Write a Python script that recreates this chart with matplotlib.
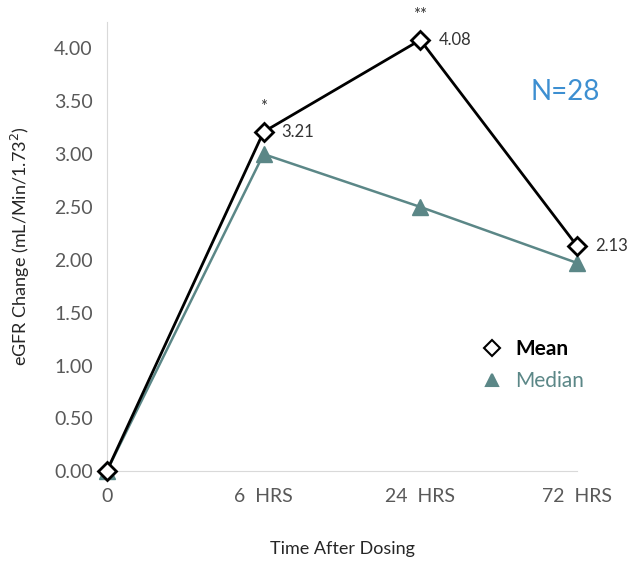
import matplotlib.pyplot as plt

# Data
time_labels = ["0", "6  HRS", "24  HRS", "72  HRS"]
mean_values = [0.0, 3.21, 4.08, 2.13]
median_values = [0.0, 3.0, 2.5, 1.97]
stars = ["", "*", "**", ""]

plt.rcParams["font.family"] = ["Lato", "DejaVu Sans"]

fig = plt.figure(figsize=(6.28, 5.63), dpi=100)
ax = fig.add_axes([0.170, 0.163, 0.749, 0.798])

x = list(range(len(time_labels)))
median_color = "#5b8787"

ax.plot(x, median_values, color=median_color, lw=1.8, marker="^", markersize=11,
        markerfacecolor=median_color, markeredgecolor=median_color, clip_on=False,
        zorder=3, label="Median")
ax.plot(x, mean_values, color="black", lw=2, marker="D", markersize=9,
        markerfacecolor="white", markeredgecolor="black", markeredgewidth=2,
        clip_on=False, zorder=4, label="Mean")

# value labels and significance stars
for xi, v, s in zip(x, mean_values, stars):
    if xi > 0:
        ax.annotate(f"{v:.2f}", (xi, v), xytext=(13, 0), textcoords="offset points",
                    va="center", ha="left", fontsize=12, color="#333333")
    if s:
        ax.annotate(s, (xi, v), xytext=(0, 12), textcoords="offset points",
                    ha="center", va="bottom", fontsize=12, color="#333333")

ax.set_xlim(0, 3)
ax.set_ylim(0, 4.25)
ax.set_xticks(x)
ax.set_xticklabels(time_labels)
ax.set_yticks([0, 0.5, 1, 1.5, 2, 2.5, 3, 3.5, 4])
ax.set_yticklabels([f"{t:.2f}" for t in ax.get_yticks()])
ax.tick_params(axis="both", length=0, labelsize=14, colors="#595959")
ax.tick_params(axis="x", pad=12)
ax.tick_params(axis="y", pad=10)

for side in ["top", "right"]:
    ax.spines[side].set_visible(False)
ax.spines["left"].set_color("#d9d9d9")
ax.spines["bottom"].set_color("#d9d9d9")

ax.set_ylabel("eGFR Change (mL/Min/1.73$^2$)", fontsize=13, color="#262626", labelpad=16)
ax.set_xlabel("Time After Dosing", fontsize=13, color="#262626", labelpad=26)

ax.text(0.974, 0.844, "N=28", transform=ax.transAxes, fontsize=20,
        color="#3d8fd1", ha="center", va="center")

handles, labels = ax.get_legend_handles_labels()
leg = ax.legend(handles[::-1], labels[::-1], loc="upper left",
                bbox_to_anchor=(0.78, 0.335), frameon=False, fontsize=15,
                handlelength=0, handletextpad=1.1, labelspacing=0.55)
leg.get_texts()[0].set_fontweight("bold")
leg.get_texts()[0].set_color("black")
leg.get_texts()[1].set_color(median_color)
for h in leg.legend_handles:
    h.set_markersize(8)
    h.set_markeredgewidth(1.5)

fig.savefig("out.png", dpi=100)
